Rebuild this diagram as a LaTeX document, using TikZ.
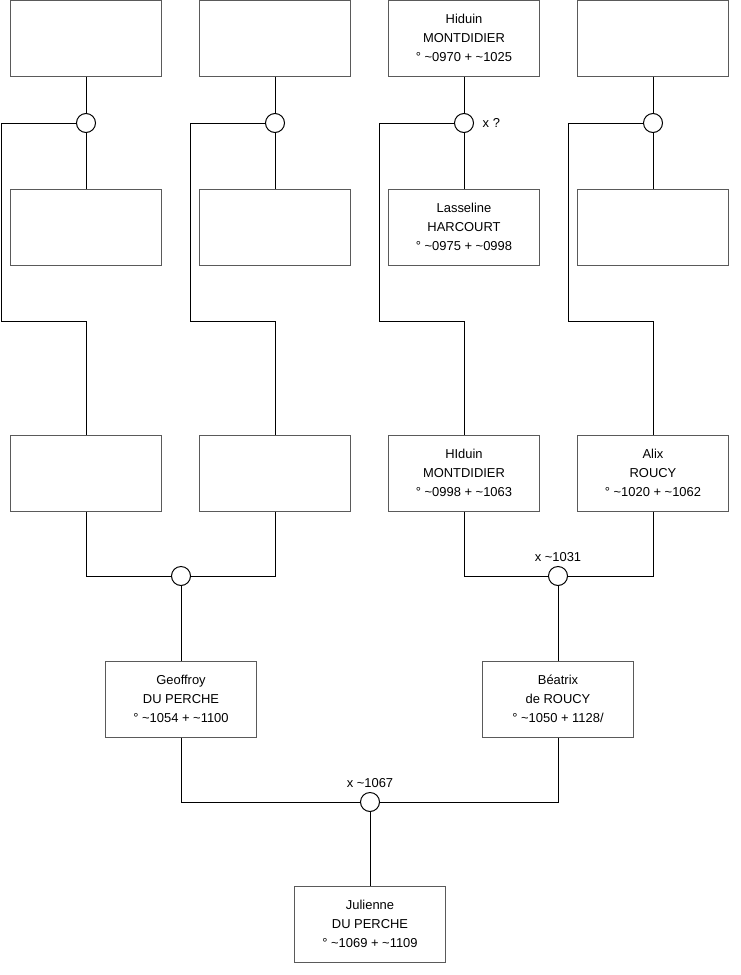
\documentclass[tikz,border=0pt]{standalone}
\usepackage{fontspec}
\setmainfont{Liberation Sans}
\usetikzlibrary{positioning}
\definecolor{boxgray}{RGB}{90, 90, 90}

\begin{document}
\begin{tikzpicture}[x=0.75pt, y=-0.75pt,
  font=\fontsize{9.7}{14.25}\selectfont,
  person/.style={draw=boxgray, line width=0.75pt, rectangle, fill=white, minimum width=113.25pt, minimum height=57pt, align=center, inner sep=0pt},
  union/.style={draw, line width=0.75pt, circle, fill=white, minimum size=14.25pt, inner sep=0pt},
  link/.style={line width=0.75pt}]
  \useasboundingbox (0,0) rectangle (740,975);

  % Nodes
  \node[person] (ggf1) at (86,38) {};
  \node[person] (ggf2) at (275,38) {};
  \node[person] (ggf3) at (464,38) {Hiduin\\MONTDIDIER\\° \textasciitilde0970 + \textasciitilde1025};
  \node[person] (ggf4) at (653,38) {};

  \node[union] (u1) at (86,123) {};
  \node[union] (u2) at (275,123) {};
  \node[union] (u3) at (464,123) {};
  \node[union] (u4) at (653,123) {};
  \node[right=3pt of u3] (m3) {x ?};

  \node[person] (ggm1) at (86,227) {};
  \node[person] (ggm2) at (275,227) {};
  \node[person] (ggm3) at (464,227) {Lasseline\\HARCOURT\\° \textasciitilde0975 + \textasciitilde0998};
  \node[person] (ggm4) at (653,227) {};

  \node[person] (gp1) at (86,473) {};
  \node[person] (gp2) at (275,473) {};
  \node[person] (gp3) at (464,473) {HIduin\\MONTDIDIER\\° \textasciitilde0998 + \textasciitilde1063};
  \node[person] (gp4) at (653,473) {Alix\\ROUCY\\° \textasciitilde1020 + \textasciitilde1062};

  \node[union] (u5) at (181,576) {};
  \node[union] (u6) at (558,576) {};
  \node[above=0pt of u6] (m6) {x \textasciitilde1031};

  \node[person] (father) at (181,699) {Geoffroy\\DU PERCHE\\° \textasciitilde1054 + \textasciitilde1100};
  \node[person] (mother) at (558,699) {Béatrix\\de ROUCY\\° \textasciitilde1050 + 1128/};

  \node[union] (u7) at (370,802) {};
  \node[above=0pt of u7] (m7) {x \textasciitilde1067};

  \node[person] (julienne) at (370,924) {Julienne\\DU PERCHE\\° \textasciitilde1069 + \textasciitilde1109};

  \coordinate (k1) at (1,321);
  \coordinate (k2) at (190,321);
  \coordinate (k3) at (379,321);
  \coordinate (k4) at (568,321);

  % Lines
  \foreach \i in {1,...,4} {
    \draw[link] (ggf\i) -- (u\i);
    \draw[link] (u\i) -- (ggm\i);
    \draw[link] (u\i.west) -| (k\i) -| (gp\i.north);
  }
  \draw[link] (gp1.south) |- (u5.west);
  \draw[link] (gp2.south) |- (u5.east);
  \draw[link] (u5) -- (father);
  \draw[link] (gp3.south) |- (u6.west);
  \draw[link] (gp4.south) |- (u6.east);
  \draw[link] (u6) -- (mother);
  \draw[link] (father.south) |- (u7.west);
  \draw[link] (mother.south) |- (u7.east);
  \draw[link] (u7) -- (julienne);
\end{tikzpicture}
\end{document}
